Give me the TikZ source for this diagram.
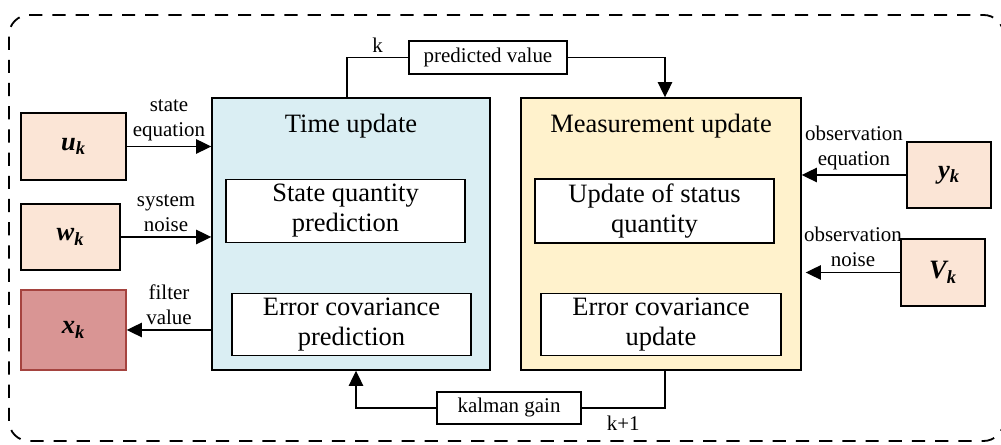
\documentclass[tikz,border=0pt]{standalone}
\usepackage{fontspec}
\setmainfont{Liberation Serif}
\usetikzlibrary{arrows.meta,positioning}
\definecolor{timeblue}{HTML}{DAEEF3}
\definecolor{measyellow}{HTML}{FFF2CC}
\definecolor{inpeach}{HTML}{FBE5D6}
\definecolor{outred}{HTML}{D99594}
\definecolor{outredline}{HTML}{A5433F}
\newcommand{\bigtext}{\fontsize{18.85}{21.3}\selectfont}
\newcommand{\smalltext}{\fontsize{14.9}{17.8}\selectfont}

\begin{document}
\begin{tikzpicture}[
  stage/.style={draw,line width=1pt,minimum height=6.8cm},
  sub/.style={draw,fill=white,line width=1pt,minimum height=1.45cm,align=center,font=\bigtext},
  sig/.style={draw,line width=1pt,fill=inpeach,font=\bigtext\bfseries\itshape},
  tag/.style={draw,fill=white,line width=0.8pt,font=\smalltext,minimum height=0.825cm},
  lbl/.style={font=\smalltext,align=center},
  wire/.style={line width=1pt},
  flow/.style={line width=1pt,-{Triangle[length=0.38cm,width=0.36cm]}}
]
  \useasboundingbox (0,0) rectangle (25.025,11.125);
  % dashed frame round the whole filter (right side runs off the page)
  \draw[line width=1.3pt,dash pattern=on 0.33cm off 0.25cm,rounded corners=0.5cm]
    (0.225,0.1) rectangle (25.09,10.75);

  % the two stages
  \node[stage,fill=timeblue,minimum width=6.95cm] (time) at (8.775,5.275) {};
  \node[stage,fill=measyellow,minimum width=7cm] (meas) at (16.525,5.275) {};
  \node[font=\bigtext] (timetitle) at (8.775,7.975) {Time update};
  \node[font=\bigtext] (meastitle) at (16.525,7.975) {Measurement update};
  \node[sub,minimum width=5.975cm] (sqp) at (8.6375,5.85) {State quantity\\prediction};
  \node[sub,minimum width=5.975cm,minimum height=1.425cm] (ecp) at (8.7875,3.0125) {Error covariance\\prediction};
  \node[sub,minimum width=5.975cm] (usq) at (16.3625,5.85) {Update of status\\quantity};
  \node[sub,minimum width=6cm,minimum height=1.425cm] (ecu) at (16.525,3.0125) {Error covariance\\update};

  % inputs and output
  \node[sig,minimum width=2.625cm,minimum height=1.675cm] (uk) at (1.8375,7.4625) {u\textsubscript{k}};
  \node[sig,minimum width=2.475cm,minimum height=1.65cm] (wk) at (1.7625,5.2) {w\textsubscript{k}};
  \node[sig,fill=outred,draw=outredline,minimum width=2.625cm,minimum height=2cm] (xk) at (1.8375,2.875) {x\textsubscript{k}};
  \node[sig,minimum width=2.1cm,minimum height=1.65cm] (yk) at (23.725,6.75) {y\textsubscript{k}};
  \node[sig,minimum width=2.1cm,minimum height=1.675cm] (vk) at (23.575,4.3125) {V\textsubscript{k}};

  \draw[flow] (uk) -- node[lbl,above] {state\\equation} (uk -| time.west);
  \draw[flow] (wk) -- node[lbl,above] {system\\noise} (wk -| time.west);
  \draw[flow] (time.west |- xk) -- node[lbl,above] {filter\\value} (xk);
  \draw[flow] (yk) -- node[lbl,above] {observation\\equation} (yk -| meas.east);
  \draw[flow] (vk) -- node[lbl,above] {observation\\noise} ([xshift=0.1cm]vk -| meas.east);

  % loop between the stages
  \node[tag,minimum width=3.95cm] (pv) at (12.2,9.6875) {predicted value};
  \node[tag,minimum width=3.6cm,minimum height=0.8cm] (kg) at (12.725,0.925) {kalman gain};
  \draw[wire] ([xshift=-0.1cm]time.north) |- node[lbl,above,pos=0.75] {k} (pv);
  \draw[flow] (pv) -| ([xshift=0.1cm]meas.north);
  \draw[wire] ([xshift=0.1cm]meas.south) |- node[lbl,below=2pt,pos=0.75] {k+1} (kg);
  \draw[flow] (kg) -| ([xshift=0.125cm]time.south);
\end{tikzpicture}
\end{document}
